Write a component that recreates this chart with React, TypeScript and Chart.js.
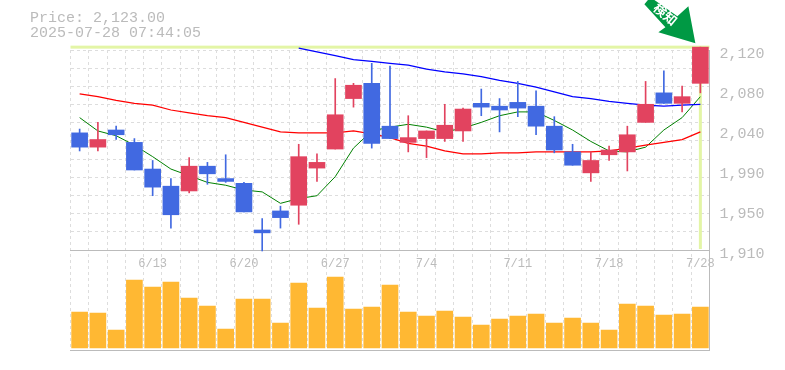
import React, { useEffect, useRef } from "react";
import { Chart, registerables } from "chart.js";

Chart.register(...registerables);

const dates = ["6/9","6/10","6/11","6/12","6/13","6/16","6/17","6/18","6/19","6/20","6/23","6/24","6/25","6/26","6/27","6/30","7/1","7/2","7/3","7/4","7/7","7/8","7/9","7/10","7/11","7/14","7/15","7/16","7/17","7/18","7/22","7/23","7/24","7/25","7/28"];
const shownDates = ["6/13","6/20","6/27","7/4","7/11","7/18","7/28"];
const open = [2033,2018,2036,2023,1995,1977,1972,1998,1985,1980,1931,1951,1957,1996,2016,2069,2085,2040,2023,2027,2027,2035,2064,2061,2065,2061,2040,2013,1991,2010,2013,2044,2075,2064,2085];
const high = [2037,2044,2040,2027,2004,1985,2007,2002,2010,1981,1943,1956,2021,2011,2090,2085,2106,2103,2051,2035,2063,2059,2079,2069,2087,2077,2050,2021,2013,2019,2040,2087,2098,2082,2123];
const low = [2014,2014,2026,1994,1967,1933,1970,1979,1981,1950,1909,1933,1937,1982,2016,2060,2017,2027,2013,2007,2024,2024,2051,2034,2050,2031,2012,1999,1982,2004,1993,2044,2064,2055,2075];
const close = [2018,2026,2031,1994,1976,1947,1998,1990,1982,1950,1928,1944,2008,2002,2052,2083,2022,2027,2028,2035,2041,2058,2060,2057,2059,2040,2015,1999,2004,2015,2031,2063,2064,2071,2123];
const maShort = [2049,2035,2030,2020,2008,1995,1988,1981,1978,1973,1971,1959,1964,1967,1987,2017,2035,2039,2042,2039,2034,2038,2044,2051,2055,2055,2046,2036,2024,2014,2013,2018,2036,2049,2071];
const maMid = [2074,2071,2067,2064,2062,2057,2054,2051,2049,2044,2039,2034,2033,2033,2033,2035,2032,2028,2022,2019,2014,2011,2011,2012,2012,2013,2013,2013,2013,2014,2017,2020,2023,2026,2034];
const maLong = [null,null,null,null,null,null,null,null,null,null,null,null,2122,2118,2114,2110,2108,2106,2104,2100,2097,2095,2092,2088,2085,2081,2076,2071,2069,2066,2064,2062,2061,2062,2063];
const volume = [36,35,18,68,61,66,50,42,19,49,49,25,65,40,71,39,41,63,36,32,37,31,23,29,32,34,25,30,25,18,44,42,33,34,41];
const priceTickLabels = ["1,910","1,950","1,990","2,040","2,080","2,120"];
const headerLines = ["Price: 2,123.00", "2025-07-28 07:44:05"];
const lastPrice = 2123;
const arrowLabel = "検知";

const UP = "#e2435f";
const DOWN = "#4169e1";
const BAND = "#e3f5a6";
const GREY = "#bbbbbb";
const MONO = "'Liberation Mono', monospace";

const crosshair = {
  id: "crosshair",
  beforeDatasetsDraw(chart: any) {
    const { ctx, chartArea, scales } = chart;
    const py = scales.y.getPixelForValue(lastPrice);
    const px = scales.x.getPixelForValue(dates.length - 1);
    const base = scales.y.getPixelForValue(1910);
    ctx.save();
    ctx.fillStyle = BAND;
    ctx.fillRect(chartArea.left, py - 1.5, chartArea.right - chartArea.left, 3);
    ctx.fillRect(px - 1.5, py, 3, base - py - 1);
    ctx.restore();
  },
};

const arrow = {
  id: "arrow",
  afterDatasetsDraw(chart: any) {
    const { ctx, scales } = chart;
    const tx = scales.x.getPixelForValue(dates.length - 1) - 5;
    const ty = scales.y.getPixelForValue(lastPrice) - 4;
    const shape = [[-51,-39],[-45,-46],[-18,-27],[-7,-37],[0,0],[-37,-11],[-30,-16]];
    ctx.save();
    ctx.fillStyle = "#009944";
    ctx.beginPath();
    shape.forEach(([dx, dy], i) => (i ? ctx.lineTo(tx + dx, ty + dy) : ctx.moveTo(tx + dx, ty + dy)));
    ctx.closePath();
    ctx.fill();
    ctx.translate(tx - 30, ty - 29);
    ctx.rotate((40 * Math.PI) / 180);
    ctx.fillStyle = "#ffffff";
    ctx.font = "bold 13px 'Noto Sans CJK JP'";
    ctx.textAlign = "center";
    ctx.textBaseline = "middle";
    ctx.fillText(arrowLabel, 0, 0);
    ctx.restore();
  },
};

export default function App() {
  const ref = useRef<HTMLCanvasElement | null>(null);
  useEffect(() => {
    if (!ref.current) return;
    const upDown = close.map((c, i) => (c >= open[i] ? UP : DOWN));
    const chart = new Chart(ref.current, {
      type: "bar",
      data: {
        labels: dates,
        datasets: [
          { type: "bar", data: volume, yAxisID: "v", backgroundColor: "#ffb833", barThickness: 16, grouped: false, order: 5 },
          { type: "line", data: maMid, borderColor: "#ff0000", borderWidth: 1.25, pointRadius: 0, clip: false, order: 4 },
          { type: "line", data: maLong, borderColor: "#0000ff", borderWidth: 1.25, pointRadius: 0, clip: false, order: 4 },
          { type: "line", data: maShort, borderColor: "#008000", borderWidth: 1, pointRadius: 0, clip: false, order: 4 },
          { type: "bar", data: low.map((l, i) => [l, high[i]]), backgroundColor: upDown, barThickness: 1, grouped: false, clip: false, order: 2 },
          { type: "bar", data: open.map((o, i) => [o, close[i]]), backgroundColor: upDown, barThickness: 16, grouped: false, clip: false, order: 1 },
        ],
      } as any,
      plugins: [crosshair, arrow],
      options: {
        responsive: false,
        animation: false,
        layout: { padding: { left: 30, right: 0, top: 0, bottom: 20 } },
        plugins: {
          legend: { display: false },
          tooltip: { enabled: false },
          title: {
            display: true,
            text: headerLines,
            align: "start",
            color: GREY,
            font: { family: MONO, size: 15, weight: "normal", lineHeight: 1 },
            padding: { top: 11, bottom: 9 },
          },
        },
        scales: {
          x: {
            type: "category",
            position: { y: 1910 },
            offset: true,
            grid: { display: true, offset: true, color: "#dddddd", drawTicks: false },
            border: { display: true, color: GREY, dash: [3, 3], width: 1 },
            ticks: {
              autoSkip: false,
              maxRotation: 0,
              minRotation: 0,
              padding: 7,
              color: GREY,
              font: { family: "'Liberation Sans Narrow', 'Liberation Mono', monospace", size: 12 },
              callback(this: any, _v: any, i: number) {
                return shownDates.includes(dates[i]) ? dates[i] : "";
              },
            },
          },
          xBase: {
            type: "category",
            position: "bottom",
            offset: true,
            grid: { display: false, drawTicks: false },
            border: { display: true, color: GREY, width: 1 },
            ticks: { display: false },
          },
          y: {
            type: "linear",
            position: "left",
            min: 1805,
            max: 2120,
            afterBuildTicks(s: any) {
              s.ticks = Array.from({ length: 12 }, (_, k) => ({ value: 1910 + (k * 210) / 11 }));
            },
            afterFit(s: any) {
              s.width = 40.5;
            },
            grid: { color: "#dddddd", drawTicks: false },
            border: { display: false, dash: [3, 3] },
            ticks: { display: false },
          },
          yLabels: {
            type: "linear",
            position: "right",
            min: 1805,
            max: 2120,
            afterBuildTicks(s: any) {
              s.ticks = priceTickLabels.map((_, k) => ({ value: 1905.8 + k * 42 }));
            },
            afterFit(s: any) {
              s.width = 75.5;
            },
            grid: { display: false, drawTicks: false },
            border: { display: true, color: GREY, width: 1 },
            ticks: {
              padding: 10,
              color: GREY,
              font: { family: MONO, size: 15 },
              callback(_v: any, i: number) {
                return priceTickLabels[i];
              },
            },
          },
          v: { type: "linear", display: false, min: -2, max: 298 },
        },
      } as any,
    });
    return () => chart.destroy();
  }, []);
  return (
    <div style={{ position: "absolute", left: 0, top: 0, width: 785, height: 370, background: "#fff" }}>
      <canvas ref={ref} width={785} height={370} style={{ display: "block" }} />
    </div>
  );
}
